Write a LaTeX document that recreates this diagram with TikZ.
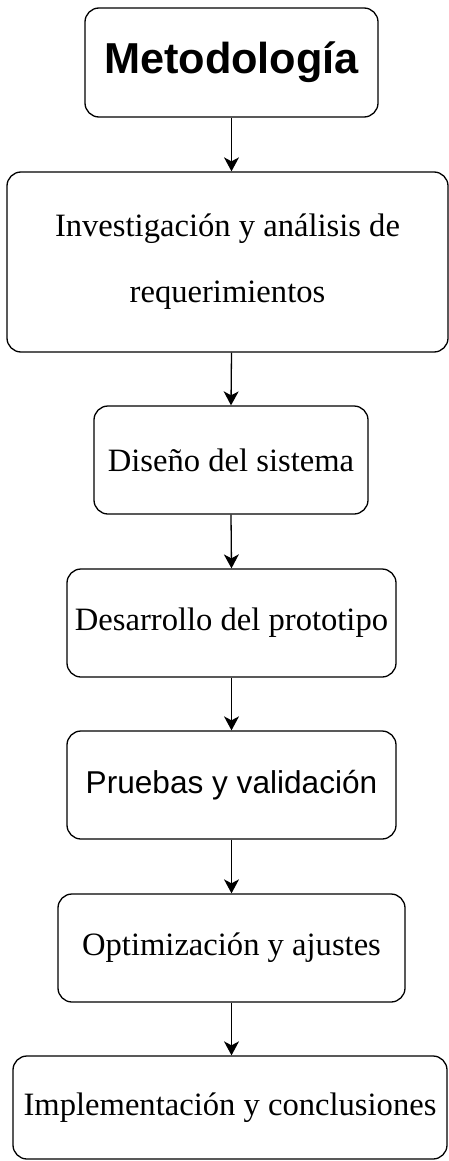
\documentclass[tikz,border=0pt]{standalone}
\usepackage{fontspec}
\setmainfont{Liberation Serif}
\newfontfamily\arialf{Liberation Sans}
\usetikzlibrary{arrows.meta}
\tikzset{
  stepbox/.style={draw, rounded corners=14pt, line width=1.3pt, inner sep=0pt, align=center,
    font=\fontsize{32.6}{66}\selectfont},
  conn/.style={line width=1.3pt, -{Stealth[length=14pt, width=15pt, inset=4pt]}}
}
\begin{document}
\begin{tikzpicture}[x=1pt,y=-1pt]
\useasboundingbox (0,0) rectangle (449,1161);
\node[stepbox, minimum width=293pt, minimum height=109pt, font=\arialf\bfseries\fontsize{43.3}{50}\selectfont] (m) at (231.5,62.5) {Metodología};
\node[stepbox, minimum width=441pt, minimum height=180pt] (inv) at (227.5,262) {Investigación y análisis de\\requerimientos};
\node[stepbox, minimum width=274pt, minimum height=108pt] (dis) at (231,460) {Diseño del sistema};
\node[stepbox, minimum width=329pt, minimum height=108pt] (des) at (231.5,623) {Desarrollo del prototipo};
\node[stepbox, minimum width=329pt, minimum height=108pt, font=\arialf\fontsize{31.6}{38}\selectfont] (pru) at (231.5,785) {Pruebas y validación};
\node[stepbox, minimum width=347pt, minimum height=108pt] (opt) at (231.5,948) {Optimización y ajustes};
\node[stepbox, minimum width=434pt, minimum height=103pt] (imp) at (230,1107.5) {Implementación y conclusiones};
\draw[conn] (m.south) -- (m.south |- inv.north);
\draw[conn] (m.south |- inv.south) -- (dis.north);
\draw[conn] (dis.south) -- (des.north);
\draw[conn] (des.south) -- (pru.north);
\draw[conn] (pru.south) -- (opt.north);
\draw[conn] (opt.south) -- (opt.south |- imp.north);
\end{tikzpicture}
\end{document}
